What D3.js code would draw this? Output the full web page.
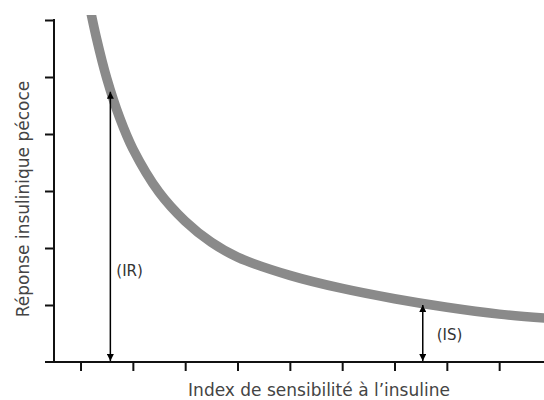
<!DOCTYPE html>
<html><head><meta charset="utf-8">
<script src="https://cdn.jsdelivr.net/npm/d3@7"></script>
<style>body{margin:0;background:#fff}svg{display:block}</style>
</head><body>
<svg id="c" width="544" height="400"></svg>
<script>
// Data (arbitrary units)
const curveX = [1.16, 1.30, 1.50, 1.75, 2.00, 2.50, 3.00, 3.50, 4.00, 5.00, 6.00, 7.00, 8.00, 9.00, 9.90];
const curveY = [6.30, 5.70, 4.98, 4.28, 3.74, 2.98, 2.47, 2.10, 1.84, 1.52, 1.29, 1.11, 0.96, 0.84, 0.77];
const xTicks = [1, 2, 3, 4, 5, 6, 7, 8, 9];
const yTicks = [1, 2, 3, 4, 5, 6];
const arrowLabels = ["(IR)", "(IS)"];
const arrowX = [1.57, 7.54];
const arrowTop = [4.74, 1.0];
const xTitle = "Index de sensibilité à l’insuline";
const yTitle = "Réponse insulinique pécoce";

const svg = d3.select("#c");
const x = d3.scaleLinear().domain([0, 10]).range([28.2, 551.5]);
const y = d3.scaleLinear().domain([0, 6]).range([362, 20]);
const font = "DejaVu Sans, Verdana, sans-serif";

const defs = svg.append("defs");
defs.append("clipPath").attr("id", "clip").append("rect")
  .attr("x", 0).attr("y", 15).attr("width", 544).attr("height", 385);
["s", "e"].forEach(id => {
  defs.append("marker").attr("id", "m" + id)
    .attr("viewBox", "0 0 10 10").attr("refX", 10).attr("refY", 5)
    .attr("markerWidth", 11).attr("markerHeight", 7).attr("markerUnits", "userSpaceOnUse")
    .attr("orient", "auto-start-reverse")
    .append("path").attr("d", "M0,0L10,5L0,10Z").attr("fill", "#000");
});

// curve
const pts = curveX.map((d, i) => [d, curveY[i]]);
svg.append("path").datum(pts)
  .attr("clip-path", "url(#clip)")
  .attr("d", d3.line().x(d => x(d[0])).y(d => y(d[1])).curve(d3.curveCatmullRom.alpha(0.5)))
  .attr("fill", "none").attr("stroke", "#8a8a8a").attr("stroke-width", 9.5);

// x axis
const gx = svg.append("g").attr("transform", `translate(0,${y(0)})`)
  .call(d3.axisBottom(x).tickValues(xTicks).tickSize(9).tickSizeOuter(0).tickFormat(""));
gx.select(".domain").remove();
gx.selectAll(".tick line").attr("stroke", "#111").attr("stroke-width", 2);
svg.append("line").attr("x1", 45).attr("x2", 544).attr("y1", y(0)).attr("y2", y(0))
  .attr("stroke", "#111").attr("stroke-width", 2);

// y axis
const gy = svg.append("g").attr("transform", `translate(54,0)`)
  .call(d3.axisLeft(y).tickValues(yTicks).tickSize(9).tickSizeOuter(0).tickFormat(""));
gy.select(".domain").remove();
gy.selectAll(".tick line").attr("stroke", "#111").attr("stroke-width", 2);
svg.append("line").attr("x1", 54).attr("x2", 54).attr("y1", y(6) - 1).attr("y2", y(0) + 1)
  .attr("stroke", "#111").attr("stroke-width", 2);

// arrows
arrowX.forEach((ax, i) => {
  svg.append("line")
    .attr("x1", x(ax)).attr("x2", x(ax))
    .attr("y1", y(arrowTop[i])).attr("y2", y(0) - 1)
    .attr("stroke", "#000").attr("stroke-width", 1.5)
    .attr("marker-start", "url(#ms)").attr("marker-end", "url(#me)");
});
svg.append("text").attr("x", x(arrowX[0]) + 6).attr("y", 276)
  .attr("font-family", font).attr("font-size", 15).attr("fill", "#333")
  .text(arrowLabels[0]);
svg.append("text").attr("x", x(arrowX[1]) + 14).attr("y", 340)
  .attr("font-family", font).attr("font-size", 15).attr("fill", "#333")
  .text(arrowLabels[1]);

// titles
svg.append("text").attr("x", 319).attr("y", 396).attr("text-anchor", "middle")
  .attr("font-family", font).attr("font-size", 17).attr("fill", "#444")
  .text(xTitle);
svg.append("text").attr("transform", "translate(29,199) rotate(-90)").attr("text-anchor", "middle")
  .attr("font-family", font).attr("font-size", 17).attr("fill", "#444")
  .text(yTitle);
</script>
</body></html>
